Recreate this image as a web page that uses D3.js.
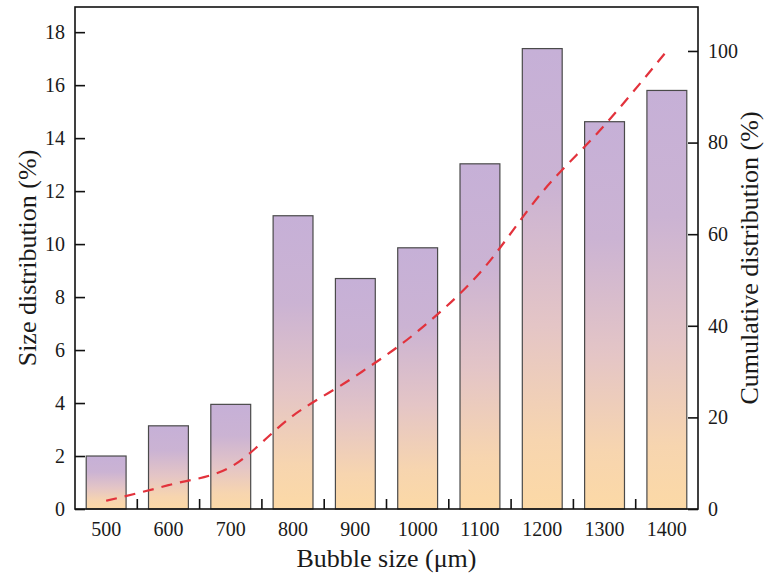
<!DOCTYPE html>
<html>
<head>
<meta charset="utf-8">
<script src="https://cdn.jsdelivr.net/npm/d3@7"></script>
<style>
  body { margin: 0; background: #fff; }
  svg { display: block; }
  text { font-family: "Liberation Serif", "Times New Roman", serif; fill: #1a1a1a; }
</style>
</head>
<body>
<svg id="chart" width="766" height="578" font-family="Liberation Serif, serif"></svg>
<script>
const sizes = ["500", "600", "700", "800", "900", "1000", "1100", "1200", "1300", "1400"];
const sizeDist = [2.0, 3.14, 3.95, 11.07, 8.7, 9.86, 13.03, 17.38, 14.62, 15.8];
const cumDist = [1.8, 5.2, 9.2, 20.4, 29.0, 38.8, 51.6, 69.2, 83.8, 100];
const leftTicks = [0, 2, 4, 6, 8, 10, 12, 14, 16, 18];
const rightTicks = [0, 20, 40, 60, 80, 100];

const width = 766;
const height = 578;
const marginLeft = 75;
const marginRight = 68;
const marginTop = 7;
const marginBottom = 69;

const svg = d3.select("#chart");

const x = d3
  .scaleBand()
  .domain(sizes)
  .range([marginLeft, width - marginRight])
  .paddingInner(0.36)
  .paddingOuter(0.18);
const yLeft = d3
  .scaleLinear()
  .domain([0, 18.95])
  .range([height - marginBottom, marginTop]);
const yRight = d3
  .scaleLinear()
  .domain([0, 109.6])
  .range([height - marginBottom, marginTop]);

// gradient for the bars, same on each bar
const grad = svg
  .append("defs")
  .append("linearGradient")
  .attr("id", "barGrad")
  .attr("x1", 0)
  .attr("y1", 0)
  .attr("x2", 0)
  .attr("y2", 1);
[
  [0, "#c6b0d7"],
  [0.3, "#cbb3d3"],
  [0.6, "#e4c5c6"],
  [0.85, "#f7d5af"],
  [1, "#fcd9a6"],
].forEach(([o, c]) => grad.append("stop").attr("offset", o).attr("stop-color", c));

svg
  .append("g")
  .selectAll("rect")
  .data(sizes)
  .enter()
  .append("rect")
  .attr("x", (d) => x(d))
  .attr("y", (d, i) => yLeft(sizeDist[i]))
  .attr("width", x.bandwidth())
  .attr("height", (d, i) => yLeft(0) - yLeft(sizeDist[i]))
  .attr("fill", "url(#barGrad)")
  .attr("stroke", "#4a4a4a")
  .attr("stroke-width", 1.2);

const line = d3
  .line()
  .x((d, i) => x(sizes[i]) + x.bandwidth() / 2)
  .y((d) => yRight(d))
  .curve(d3.curveMonotoneX);
svg
  .append("path")
  .datum(cumDist)
  .attr("d", line)
  .attr("fill", "none")
  .attr("stroke", "#e2323c")
  .attr("stroke-width", 2.2)
  .attr("stroke-dasharray", "11,8");

// frame
svg
  .append("rect")
  .attr("x", marginLeft)
  .attr("y", marginTop)
  .attr("width", width - marginLeft - marginRight)
  .attr("height", height - marginTop - marginBottom)
  .attr("fill", "none")
  .attr("stroke", "#111")
  .attr("stroke-width", 1.6);

const styleAxis = (g) => {
  g.attr("font-family", null).attr("font-size", null);
  g.select(".domain").remove();
  g.selectAll("line").attr("stroke", "#111").attr("stroke-width", 1.6);
  g.selectAll("text").attr("font-size", "20px").attr("fill", "#1a1a1a");
};

svg
  .append("g")
  .attr("transform", `translate(${marginLeft},0)`)
  .call(d3.axisLeft(yLeft).tickValues(leftTicks).tickSize(-10).tickPadding(10))
  .call(styleAxis);

svg
  .append("g")
  .attr("transform", `translate(${width - marginRight},0)`)
  .call(d3.axisRight(yRight).tickValues(rightTicks).tickSize(-10).tickPadding(10))
  .call(styleAxis);

// x labels at bar centres, ticks between bars
const xAxis = svg
  .append("g")
  .attr("transform", `translate(0,${height - marginBottom})`)
  .call(d3.axisBottom(x).tickSize(0).tickPadding(13))
  .call(styleAxis);
xAxis
  .selectAll(".sep")
  .data(sizes.slice(1))
  .enter()
  .append("line")
  .attr("x1", (d) => x(d) - (x.step() - x.bandwidth()) / 2)
  .attr("x2", (d) => x(d) - (x.step() - x.bandwidth()) / 2)
  .attr("y1", 0)
  .attr("y2", -10)
  .attr("stroke", "#111")
  .attr("stroke-width", 1.6);

svg
  .append("text")
  .attr("x", (marginLeft + width - marginRight) / 2)
  .attr("y", 567)
  .attr("text-anchor", "middle")
  .attr("font-size", "26px")
  .text("Bubble size (μm)");

svg
  .append("text")
  .attr("transform", `translate(36,${(marginTop + height - marginBottom) / 2}) rotate(-90)`)
  .attr("text-anchor", "middle")
  .attr("font-size", "26px")
  .text("Size distribution (%)");

svg
  .append("text")
  .attr("transform", `translate(758,${(marginTop + height - marginBottom) / 2}) rotate(-90)`)
  .attr("text-anchor", "middle")
  .attr("font-size", "26px")
  .text("Cumulative distribution (%)");
</script>
</body>
</html>
